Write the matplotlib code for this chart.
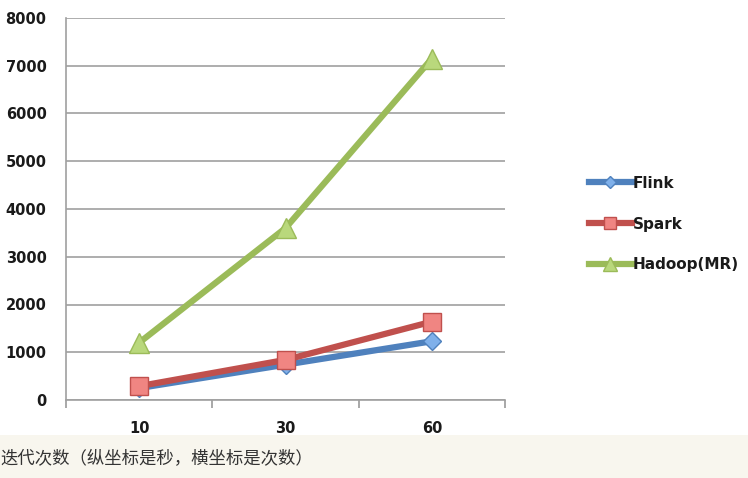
import matplotlib
matplotlib.use("Agg")
import matplotlib.pyplot as plt
from matplotlib.patches import Rectangle

# data (seconds per iteration count)
iterations = ["10", "30", "60"]
flink = [250, 740, 1230]
spark = [290, 840, 1640]
hadoop = [1200, 3600, 7150]
y_ticks = [0, 1000, 2000, 3000, 4000, 5000, 6000, 7000, 8000]
caption = "迭代次数（纵坐标是秒，横坐标是次数）"

W, H = 748, 478
fig = plt.figure(figsize=(W / 100, H / 100), dpi=100)
fig.patch.set_facecolor("white")

# beige caption band at the bottom
fig.patches.append(Rectangle((0, 0), 1, 43 / H, transform=fig.transFigure,
                             facecolor="#f8f6ee", edgecolor="none", zorder=0))
fig.text(0, 1 - 459 / H, caption, fontsize=12.5, color="#333333",
         family=["Noto Sans CJK SC", "DejaVu Sans"], va="center", ha="left")

ax = fig.add_axes([66 / W, 1 - 400 / H, (505 - 66) / W, (400 - 18) / H])
x = list(range(len(iterations)))

ax.plot(x, flink, color="#4f81bd", lw=4.5, marker="D", ms=9,
        mfc="#7fb0ea", mec="#4f81bd", mew=1, label="Flink", zorder=3)
ax.plot(x, spark, color="#c0504d", lw=4.5, marker="s", ms=13,
        mfc="#f08582", mec="#c0504d", mew=1, label="Spark", zorder=4)
ax.plot(x, hadoop, color="#9bbb59", lw=4.5, marker="^", ms=14,
        mfc="#b9d87c", mec="#9bbb59", mew=1, label="Hadoop(MR)", zorder=3)

ax.set_xlim(-0.5, len(iterations) - 0.5)
ax.set_ylim(0, 8000)
ax.set_yticks(y_ticks)
ax.set_yticklabels([str(v) for v in y_ticks], fontweight="bold")
ax.set_xticks(x)
ax.set_xticklabels(iterations, fontweight="bold")
ax.set_xticks([i - 0.5 for i in range(len(iterations) + 1)], minor=True)

ax.tick_params(axis="y", length=0, pad=14, labelsize=10.5, labelcolor="#1a1a1a")
ax.tick_params(axis="x", which="major", length=0, pad=15, labelsize=10.5,
               labelcolor="#1a1a1a")
ax.tick_params(axis="x", which="minor", length=6, color="#999999", width=1.2)

ax.grid(axis="y", color="#a0a0a0", lw=1.2)
ax.set_axisbelow(True)
for s in ["top", "right"]:
    ax.spines[s].set_visible(False)
ax.spines["left"].set_color("#a0a0a0")
ax.spines["left"].set_linewidth(1.2)
ax.spines["bottom"].set_color("#a0a0a0")
ax.spines["bottom"].set_linewidth(1.2)

leg = ax.legend(loc="center left", bbox_to_anchor=(575 / W, 1 - 224 / H),
                bbox_transform=fig.transFigure, frameon=False,
                prop={"size": 11, "weight": "bold"},
                handlelength=2.8, handletextpad=0.1, labelspacing=1.7,
                markerscale=0.7)
for t in leg.get_texts():
    t.set_color("#1a1a1a")

fig.savefig("out.png", dpi=100)
